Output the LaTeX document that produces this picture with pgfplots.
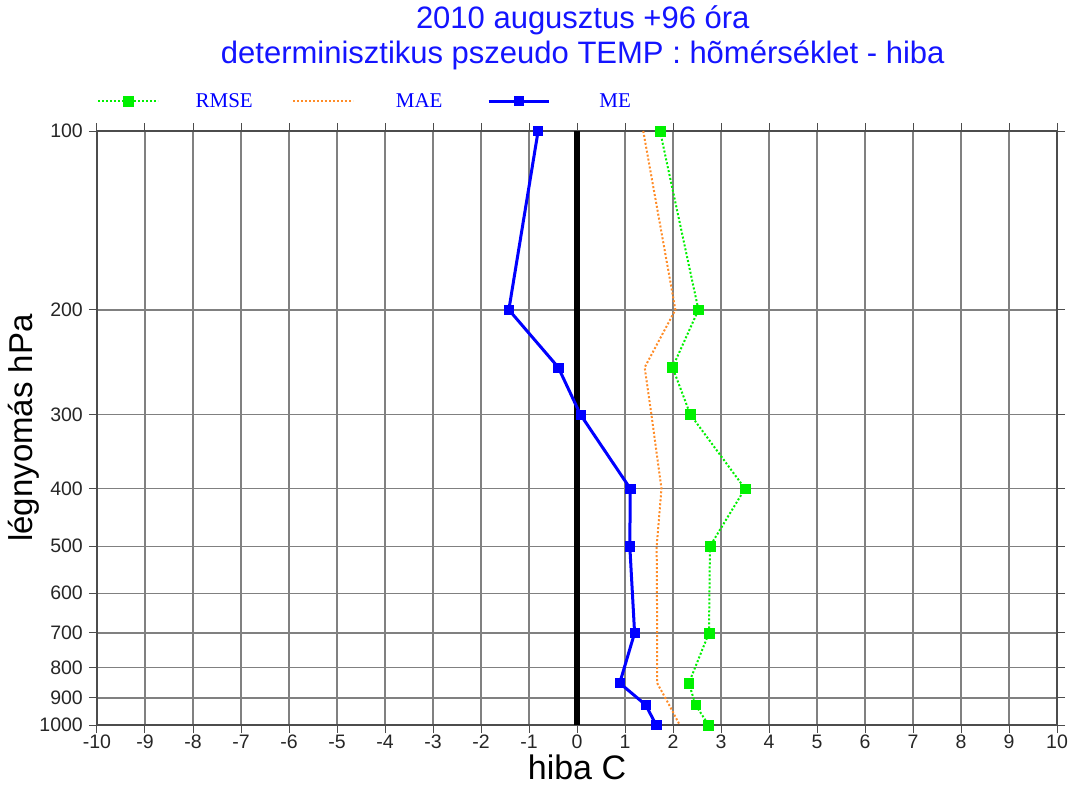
\documentclass[border=0pt]{standalone}
\usepackage{fontspec}
\setmainfont{Liberation Sans}
\newfontfamily\seriffont{Liberation Serif}
\usepackage{pgfplots}
\pgfplotsset{compat=1.18}
\definecolor{meblue}{RGB}{0,0,255}
\definecolor{titleblue}{RGB}{20,20,255}
\definecolor{rmsegreen}{RGB}{0,240,0}
\definecolor{maeorange}{RGB}{255,140,40}
\begin{document}
\begin{tikzpicture}
\begin{axis}[
  name=ax,
  scale only axis, width=960pt, height=594pt,
  xmin=-10, xmax=10, ymin=100, ymax=1000,
  ymode=log, y dir=reverse,
  clip=false,
  xtick={-10,-9,...,10},
  ytick={100,200,300,400,500,600,700,800,900,1000},
  yticklabels={100,200,300,400,500,600,700,800,900,1000},
  grid=major,
  major grid style={black!50, line width=1.4pt},
  axis line style={black!70, line width=1.2pt},
  tick align=outside, major tick length=8pt,
  tick style={black!70, line width=1pt},
  /pgf/number format/assume math mode=true,
  ticklabel style={font=\fontsize{19.5}{22}\selectfont, text=black!85},
  xticklabel style={anchor=north, inner sep=0pt, yshift=-2pt},
  yticklabel style={anchor=east, inner sep=0pt, xshift=-6pt},
  xlabel={hiba C},
  ylabel={légnyomás hPa},
  xlabel style={at={(axis description cs:0.5,-0.0915)}, anchor=base, inner sep=0pt, font=\fontsize{34}{40}\selectfont},
  ylabel style={at={(axis description cs:-0.0677,0.5)}, anchor=base, inner sep=0pt, rotate=0, font=\fontsize{33}{40}\selectfont},
  title={2010 augusztus +96 óra\\determinisztikus pszeudo TEMP : hõmérséklet - hiba},
  title style={at={(axis description cs:0.506,1.0930)}, anchor=south, inner sep=0pt, align=center, font=\fontsize{31}{35}\selectfont, text=titleblue},
  legend columns=3,
  legend style={at={(axis description cs:0,1.0505)}, anchor=west, draw=none, fill=none, inner sep=0pt,
    font=\seriffont\fontsize{21}{24}\selectfont, text=meblue,
    /tikz/every odd column/.append style={column sep=25pt},
    /tikz/every even column/.append style={column sep=28pt},
    nodes={inner sep=0pt}},
  legend image code/.code={\draw[mark repeat=2, mark phase=2, #1] plot coordinates {(0pt,0pt) (30pt,0pt) (60pt,0pt)};},
]
\addplot[black, line width=6pt, forget plot] coordinates {(0,100) (0,1000)};
\addplot[rmsegreen, line width=2pt, dash pattern=on 2pt off 2pt, mark=square*, mark size=4.8pt, mark options={solid, fill=rmsegreen, draw=rmsegreen, line width=0.5pt}]
  coordinates {(1.73,100) (2.53,200) (1.99,250) (2.36,300) (3.50,400) (2.77,500) (2.75,700) (2.33,850) (2.47,925) (2.74,1000)};
\addlegendentry{\makebox[80pt]{RMSE}}
\addplot[maeorange, line width=2pt, dash pattern=on 2pt off 2pt]
  coordinates {(1.38,100) (2.05,200) (1.41,250) (1.55,300) (1.76,400) (1.66,500) (1.67,700) (1.67,850) (1.92,925) (2.14,1000)};
\addlegendentry{\makebox[80pt]{MAE}}
\addplot[meblue, line width=3pt, mark=square*, mark size=4.6pt, mark options={solid, fill=meblue, line width=0.5pt}]
  coordinates {(-0.81,100) (-1.42,200) (-0.39,250) (0.07,300) (1.11,400) (1.10,500) (1.20,700) (0.89,850) (1.43,925) (1.65,1000)};
\addlegendentry{\makebox[80pt]{ME}}
\end{axis}
\pgfresetboundingbox
\path ([xshift=-97pt,yshift=-62pt]ax.south west) rectangle ([xshift=19pt,yshift=131pt]ax.north east);
\end{tikzpicture}
\end{document}
